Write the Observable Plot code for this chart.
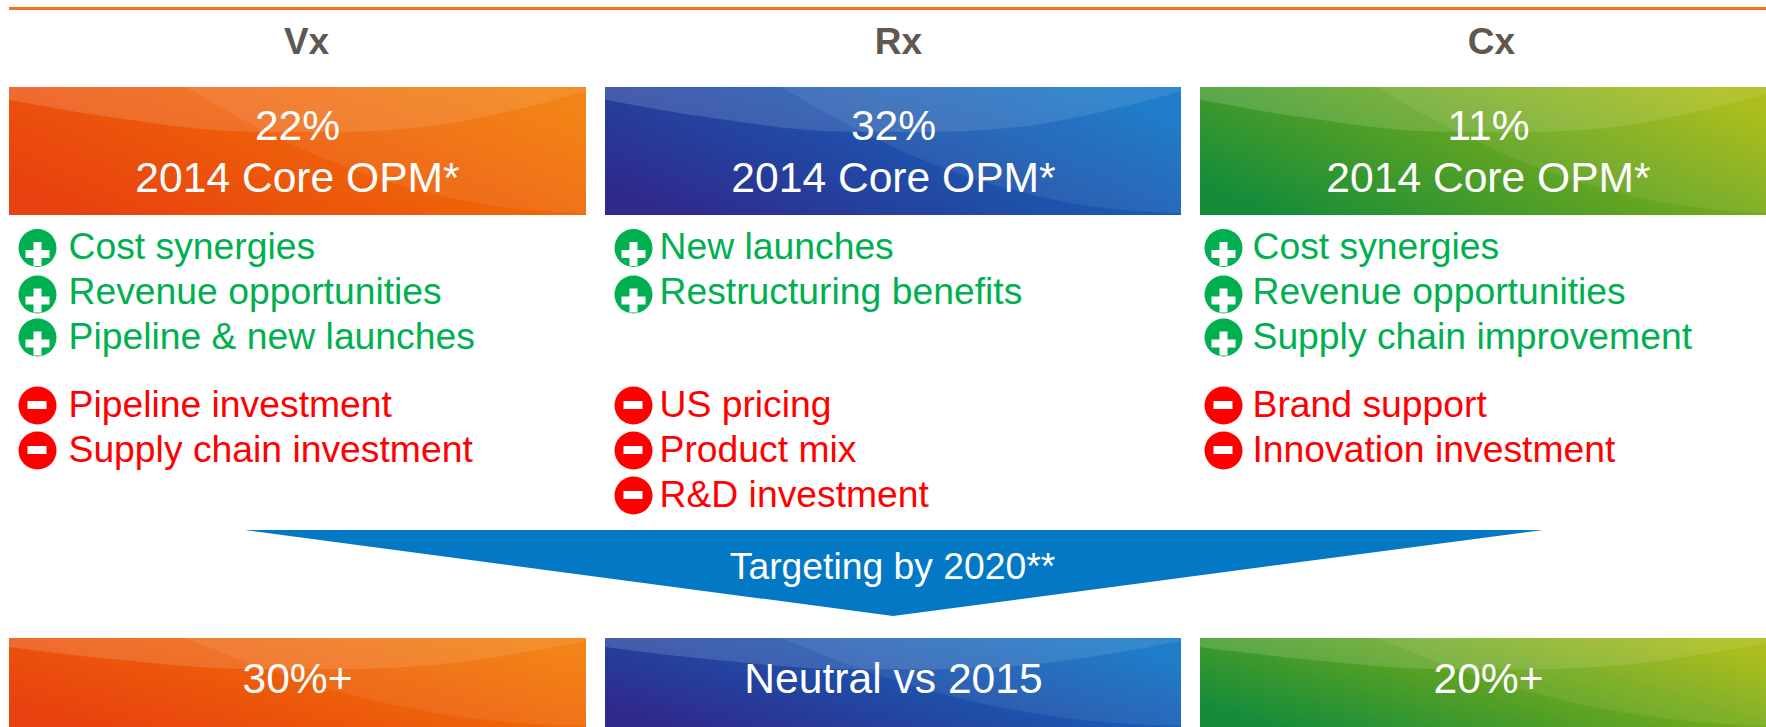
<!DOCTYPE html>
<html>
<head>
<meta charset="utf-8">
<script src="https://cdn.jsdelivr.net/npm/d3@7"></script>
<script src="https://cdn.jsdelivr.net/npm/@observablehq/plot@0.6"></script>
<style>
html,body{margin:0;padding:0;background:#fff;overflow:hidden}
svg{display:block}
</style>
</head>
<body>
<div id="chart"></div>
<script>
// ---- content ----
const divisions = ["Vx", "Rx", "Cx"];
const coreMargin = ["22%", "32%", "11%"];
const marginLabel = "2014 Core OPM*";
const targets = ["30%+", "Neutral vs 2015", "20%+"];
const targetBanner = "Targeting by 2020**";
const tailwinds = [
  ["Cost synergies", "Revenue opportunities", "Pipeline & new launches"],
  ["New launches", "Restructuring benefits"],
  ["Cost synergies", "Revenue opportunities", "Supply chain improvement"]
];
const headwinds = [
  ["Pipeline investment", "Supply chain investment"],
  ["US pricing", "Product mix", "R&D investment"],
  ["Brand support", "Innovation investment"]
];

// ---- layout (pixel frame of the slide) ----
const W = 1766, H = 727;
const boxLeft = [9, 605, 1200], boxWidth = [577, 576, 576];
const headerX = [306, 898, 1491];
const labelX = [297, 893, 1488];
const iconX = [37, 633, 1223], textX = [68, 659, 1252];
const plusY = [247.5, 294, 337], minusY = [405, 450, 495];
const plusBase = [258.5, 303, 348], minusBase = [416.5, 461.5, 506];
const topBox = [87, 215], bottomBox = [638, 727];
const gradients = [["#e8410f", "#f27a05"], ["#2f2a8c", "#0f74c6"], ["#148c3a", "#a6b90c"]];
const green = "#00b050", red = "#ff0000";

// swoosh outlines, as fractions of a box
const bandU = [0, .19, .42, .57, .74, .875, 1];
const bandV = [.10, .245, .35, .35, .30, .18, .036];
const sweepU = [.306, .423, .574, .738, .875, 1];
const sweepV = [0, .297, .61, .84, .95, .987];

// ---- derived tables ----
const boxes = [];
divisions.forEach((d, i) => {
  boxes.push({d, i, y1: topBox[0], y2: topBox[1], row: "top"});
  boxes.push({d, i, y1: bottomBox[0], y2: bottomBox[1], row: "bottom"});
});
const bands = [], sweeps = [];
boxes.forEach((b, k) => {
  const h = b.y2 - b.y1;
  bandU.forEach((u, j) => bands.push({z: k, x: boxLeft[b.i] + u * boxWidth[b.i], y1: b.y1, y2: b.y1 + bandV[j] * h}));
  sweepU.forEach((u, j) => sweeps.push({z: k, x: boxLeft[b.i] + u * boxWidth[b.i], y1: b.y1, y2: b.y1 + sweepV[j] * h}));
});
const items = [];
divisions.forEach((d, i) => {
  tailwinds[i].forEach((t, r) => items.push({t, x: iconX[i], tx: textX[i], y: plusY[r], base: plusBase[r], plus: true}));
  headwinds[i].forEach((t, r) => items.push({t, x: iconX[i], tx: textX[i], y: minusY[r], base: minusBase[r], plus: false}));
});
const plusItems = items.filter(d => d.plus), minusItems = items.filter(d => !d.plus);
const banner = [{x: 245, y1: 530, y2: 530}, {x: 893, y1: 530, y2: 616}, {x: 1543, y1: 530, y2: 530}];

const defs = () => {
  const ns = "http://www.w3.org/2000/svg";
  const el = document.createElementNS(ns, "defs");
  const add = (id, x1, y1, x2, y2, stops) => {
    const lg = document.createElementNS(ns, "linearGradient");
    lg.setAttribute("id", id);
    lg.setAttribute("x1", x1); lg.setAttribute("y1", y1);
    lg.setAttribute("x2", x2); lg.setAttribute("y2", y2);
    stops.forEach(([c, o], j) => {
      const s = document.createElementNS(ns, "stop");
      s.setAttribute("offset", j);
      s.setAttribute("stop-color", c);
      s.setAttribute("stop-opacity", o);
      lg.appendChild(s);
    });
    el.appendChild(lg);
  };
  gradients.forEach((g, i) => add("grad" + i, 0, .75, 1, .25, [[g[0], 1], [g[1], 1]]));
  add("bandFade", 0, 0, 1, 0, [["#fff", .15], ["#fff", .09]]);
  return el;
};

const font = "Liberation Sans, Arial, sans-serif";
const chart = Plot.plot({
  width: W, height: H,
  margin: 0,
  x: {domain: [0, W], range: [0, W], axis: null},
  y: {domain: [0, H], range: [0, H], axis: null},
  style: {fontFamily: font, background: "#fff"},
  marks: [
    defs,
    Plot.rect([0], {x1: 9, x2: W, y1: 7, y2: 10, fill: "#f4701f"}),
    Plot.text(divisions, {x: (d, i) => headerX[i], y: 53.5, text: d => d, fontSize: 37, fontWeight: "bold", fill: "#5f5750", lineAnchor: "bottom"}),
    ...gradients.map((g, i) => Plot.rect(boxes.filter(b => b.i === i), {
      x1: () => boxLeft[i], x2: () => boxLeft[i] + boxWidth[i], y1: "y1", y2: "y2", fill: `url(#grad${i})`
    })),
    Plot.area(bands, {x1: "x", y1: "y1", y2: "y2", z: "z", fill: "url(#bandFade)", curve: "monotone-x"}),
    Plot.area(sweeps, {x1: "x", y1: "y1", y2: "y2", z: "z", fill: "#fff", fillOpacity: 0.07, curve: "monotone-x"}),
    Plot.text(coreMargin, {x: (d, i) => labelX[i], y: 139.5, text: d => d, fontSize: 42.6, fill: "#fff", lineAnchor: "bottom"}),
    Plot.text(divisions, {x: (d, i) => labelX[i], y: 191, text: () => marginLabel, fontSize: 42.6, fill: "#fff", lineAnchor: "bottom"}),
    Plot.dot(plusItems, {x: "x", y: "y", r: 19, fill: green, stroke: null}),
    Plot.dot(plusItems, {x: "x", y: d => d.y + 6, r: 10.1, symbol: "cross", fill: "#fff", stroke: null}),
    Plot.dot(minusItems, {x: "x", y: "y", r: 19, fill: red, stroke: null}),
    Plot.rect(minusItems, {x1: d => d.x - 9.5, x2: d => d.x + 9.5, y1: d => d.y - 4, y2: d => d.y + 4, fill: "#fff"}),
    Plot.text(plusItems, {x: "tx", y: "base", text: "t", fontSize: 37.3, fill: green, textAnchor: "start", lineAnchor: "bottom"}),
    Plot.text(minusItems, {x: "tx", y: "base", text: "t", fontSize: 37.3, fill: red, textAnchor: "start", lineAnchor: "bottom"}),
    Plot.area(banner, {x1: "x", y1: "y1", y2: "y2", fill: "#0379c5"}),
    Plot.text([targetBanner], {x: 892, y: 578, text: d => d, fontSize: 37.3, fill: "#fff", lineAnchor: "bottom"}),
    Plot.text(targets, {x: (d, i) => labelX[i], y: 692, text: d => d, fontSize: 42.6, fill: "#fff", lineAnchor: "bottom"})
  ]
});
document.getElementById("chart").appendChild(chart);
</script>
</body>
</html>
